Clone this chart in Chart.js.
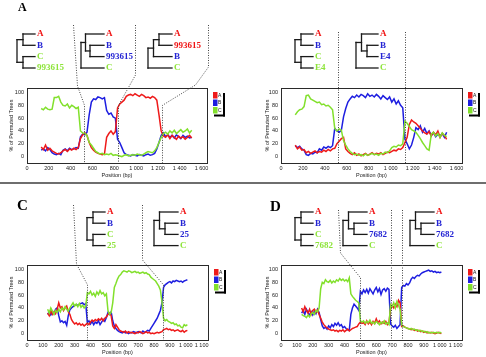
<!DOCTYPE html>
<html><head><meta charset="utf-8">
<script src="https://cdn.jsdelivr.net/npm/chart.js@4.4.0/dist/chart.umd.min.js"></script>
<style>
html,body{margin:0;padding:0;background:#fff;}
body{width:486px;height:357px;position:relative;overflow:hidden;}
.panel{position:absolute;}
.panel canvas{position:absolute;left:0;top:0;}
.lbl{position:absolute;font:bold 9px "Liberation Serif","Times New Roman",serif;line-height:9px;white-space:nowrap;}
.ttl{position:absolute;font-family:"Liberation Serif","Times New Roman",serif;font-weight:bold;line-height:1;}
#sep{position:absolute;left:0;top:182px;width:486px;height:2px;background:#6e6e6e;}
</style></head><body>
<div class="panel" id="pA" style="left:0;top:0;width:243px;height:180px"><canvas id="cA" width="243" height="180"></canvas></div>
<div class="panel" id="pB" style="left:243px;top:0;width:243px;height:180px"><canvas id="cB" width="243" height="180"></canvas></div>
<div class="panel" id="pC" style="left:0;top:180px;width:243px;height:177px"><canvas id="cC" width="243" height="177"></canvas></div>
<div class="panel" id="pD" style="left:243px;top:180px;width:243px;height:177px"><canvas id="cD" width="243" height="177"></canvas></div>
<div id="sep"></div>
<script>
// ---------- data ----------
const seriesNames = ['A','B','C'];
const posAB = [130,150,170,190,210,230,250,270,290,310,330,350,370,390,410,430,450,470,490,510,530,550,570,590,610,630,650,670,690,710,730,750,770,790,810,830,850,870,890,910,930,950,970,990,1010,1030,1050,1070,1090,1110,1130,1150,1170,1190,1210,1230,1250,1270,1290,1310,1330,1350,1370,1390,1410,1430,1450,1470,1490,1510];
const posCD = [130,140,150,160,170,180,190,200,210,220,230,240,250,260,270,280,290,300,310,320,330,340,350,360,370,380,390,400,410,420,430,440,450,460,470,480,490,500,510,520,530,540,550,560,570,580,590,600,610,620,630,640,650,660,670,680,690,700,710,720,730,740,750,760,770,780,790,800,810,820,830,840,850,860,870,880,890,900,910,920,930,940,950,960,970,980,990,1000,1010];

// Panel A
const panelA_A = [15,11,18,10,13,9,7,5,4,6, 9,11,8,12,10,13,11,14,28,34, 37,33,22,14,10,7,5,4,3,4, 30,36,40,35,39,76,82,85,88,94, 96,97,95,98,96,94,97,95,92,93, 91,94,92,88,65,40,32,30,34,28, 33,30,27,32,29,31,27,30,33,29];
const panelA_B = [10,12,9,14,11,6,4,3,5,3, 10,12,9,13,11,12,14,13,31,35, 34,38,65,85,90,89,93,92,90,92, 72,66,68,62,60,27,22,14,6,3, 2,1,3,2,1,3,2,1,3,4, 2,3,5,12,22,33,37,31,34,30, 33,29,34,31,28,33,30,32,29,30];
const panelA_C = [75,73,77,74,73,74,92,92,94,85, 80,79,82,76,80,78,75,77,40,37, 36,33,22,18,13,8,6,4,5,3, 4,3,5,2,3,2,1,0,2,3, 1,2,3,2,4,3,2,4,6,8, 7,6,9,14,22,30,36,38,35,40, 37,41,36,39,42,38,40,43,37,41];
// Panel B
const panelB_A = [18,12,15,10,11,6,8,5,7,9, 6,8,7,10,8,11,9,12,13,20, 24,28,30,12,8,5,3,6,2,4, 1,3,5,2,4,6,3,5,4,6, 3,5,7,6,8,10,9,12,11,14, 22,30,50,57,54,52,48,44,40,37, 35,39,32,38,34,40,30,36,33,27];
const panelB_B = [17,14,16,12,10,3,2,5,4,7, 6,12,10,15,13,16,14,17,44,40, 38,41,62,75,85,90,94,92,96,93, 97,95,92,98,94,96,93,97,94,90, 95,92,89,93,85,90,82,87,80,76, 27,20,12,18,30,45,42,48,38,44, 36,40,33,37,31,35,32,36,30,38];
const panelB_C = [65,70,73,74,78,95,96,90,88,86, 84,85,81,82,79,80,77,73,44,40, 43,41,25,18,12,8,5,3,4,2, 3,1,4,2,3,5,3,4,2,5, 4,7,6,9,14,16,15,18,17,20, 55,52,47,42,40,38,33,28,22,17, 12,10,35,38,32,36,30,37,33,31];
// Panel C
const panelC_A = [32,28,36,30,34,31,38,48,40,42, 36,40,43,34,30,22,18,15,17,14, 16,13,15,12,14,16,14,18,21,19, 22,20,23,21,24,20,24,26,30,32, 28,12,8,14,10,6,4,3,2,4, 1,3,1,2,1,0,2,1,3,2, 0,1,3,1,2,0,1,0,1,2, 1,2,3,6,7,8,6,7,5,6, 4,5,6,4,3,5,2,4,5];
const panelC_B = [30,34,29,33,31,38,40,28,18,20, 17,19,13,28,37,40,42,44,45,44, 46,47,48,45,47,17,20,15,19,14, 18,16,20,14,18,22,19,25,33,30, 34,20,12,8,5,3,2,1,3,1, 2,0,2,1,3,2,1,3,2,1, 4,2,3,5,4,8,12,16,20,24, 30,36,48,72,76,78,80,81,79,82, 81,83,82,81,82,80,82,83,84];
const panelC_C = [38,32,40,35,30,36,33,38,34,40, 37,42,38,35,40,44,48,43,46,42, 47,41,44,40,43,64,62,66,60,63, 58,65,61,67,62,64,59,62,36,30, 33,48,72,78,85,90,92,96,98,97, 96,98,97,95,96,97,95,96,94,95, 96,94,95,93,92,88,86,84,82,78, 74,68,50,24,20,22,19,18,16,17, 14,15,12,13,10,9,14,12,14];
// Panel D
const panelD_A = [40,34,42,36,32,38,30,36,38,33, 37,30,24,18,14,11,9,7,6,5, 6,4,5,3,5,4,6,3,5,7, 4,6,8,9,10,11,15,18,16,17, 14,20,15,18,14,19,16,23,17,20, 15,18,16,19,14,17,38,44,40,46, 42,52,48,11,12,10,9,8,7,6, 7,5,6,4,5,3,4,2,3,1, 2,1,2,1,0,1,2,1,0];
const panelD_B = [32,36,30,38,33,28,34,29,35,31, 38,33,22,12,8,10,7,12,9,14, 11,16,13,17,12,14,9,11,8,6, 5,30,40,46,43,40,36,66,62,68, 64,69,63,70,66,62,68,72,65,70, 61,68,70,66,71,69,15,12,10,13, 8,11,14,72,75,74,78,76,79,85, 88,86,89,91,90,93,95,96,97,98, 99,97,98,96,97,95,96,95,96];
const panelD_C = [30,28,27,25,29,26,31,33,30,36, 34,40,70,80,78,84,81,80,83,79, 82,80,84,82,86,83,85,82,84,81, 87,62,58,55,52,50,48,20,18,20, 16,19,17,21,16,18,15,19,17,14, 18,16,20,15,17,14,45,42,48,40, 50,44,38,14,11,10,9,8,7,8, 6,7,5,6,4,5,3,4,2,3, 1,2,1,2,1,2,1,2,1];

const xTicksAB = [0,200,400,600,800,1000,1200,1400,1600];
const xTicksCD = [0,100,200,300,400,500,600,700,800,900,1000,1100];
const yTicks = [0,20,40,60,80,100];

// recombination breakpoints (bp)
const breaksA = [520,830,1240];
const breaksB = [520,1130];
const breaksC = [375,855];
const breaksD = [500,690,760];

// ---------- styles ----------
const COL = {r:'#ee1a1a', b:'#1e1ee0', g:'#82e02c'};
const LBL = {r:'#f01212', b:'#2424d4', g:'#8ee43a'};
const L = (t,c)=>({t,c});

function fmt(v){ const s=String(v); return v>=1000 ? s.slice(0,s.length-3)+' '+s.slice(-3) : s; }

function buildTree(spec, rows){
  const segs=[], labels=[]; let li=0; const endX=spec.labelX-2;
  function rec(node, depth){
    if(!Array.isArray(node)){ const y=rows[li++]; labels.push({t:node.t,c:node.c,x:spec.labelX,y}); return {y,leaf:true}; }
    const nx=spec.rootX+depth*spec.dx;
    const kids=node.map(k=>rec(k,depth+1));
    kids.forEach(k=>{ const kx=k.leaf?endX:spec.rootX+(depth+1)*spec.dx; segs.push([nx,k.y,kx,k.y]); });
    segs.push([nx,kids[0].y,nx,kids[kids.length-1].y]);
    return {y:(kids[0].y+kids[kids.length-1].y)/2,leaf:false};
  }
  rec(spec.topo,0);
  return {segs,labels};
}

const rowsTop=[34,45.3,56.6,68], rowsBot=[32,43.2,54.4,65.6];

const panels = [
 {id:'A', pos:posAB, a:panelA_A, b:panelA_B, c:panelA_C, xTicks:xTicksAB, xMax:1650, padL:0, yW:27, padR:36, padT:88, xH:17,
  title:{left:18,top:1,size:12}, rows:rowsTop,
  trees:[
   {rootX:17, dx:6, labelX:37, topo:[[L('A','r'),L('B','b')],[L('C','g'),L('993615','g')]]},
   {rootX:81, dx:4.5, labelX:106, topo:[[L('A','r'),[L('B','b'),L('993615','b')]],L('C','g')]},
   {rootX:148, dx:5.5, labelX:174, topo:[[[L('A','r'),L('993615','r')],L('B','b')],L('C','g')]}],
  guides:[{bp:breaksA[0], path:[[73,25],[77,86]], kv:80},{bp:breaksA[1], path:[[135,25],[135,75]], kv:80},{bp:breaksA[2], path:[[208,25],[208,67],[195,85]], kv:80}]},
 {id:'B', pos:posAB, a:panelB_A, b:panelB_B, c:panelB_C, xTicks:xTicksAB, xMax:1650, padL:13, yW:25, padR:24, padT:88, xH:17,
  title:{left:272,top:1,size:12}, rows:rowsTop,
  trees:[
   {rootX:52, dx:6, labelX:72, topo:[[L('A','r'),L('B','b')],[L('C','g'),L('E4','g')]]},
   {rootX:113, dx:5.5, labelX:137, topo:[[L('A','r'),[L('B','b'),L('E4','b')]],L('C','g')]}],
  guides:[{bp:breaksB[0], top:32},{bp:breaksB[1], top:32}]},
 {id:'C', pos:posCD, a:panelC_A, b:panelC_B, c:panelC_C, xTicks:xTicksCD, xMax:1140, padL:0, yW:27, padR:35, padT:85, xH:17,
  title:{left:17,top:18,size:15}, rows:rowsBot,
  trees:[
   {rootX:87, dx:6, labelX:107, topo:[[L('A','r'),L('B','b')],[L('C','g'),L('25','g')]]},
   {rootX:154, dx:5.5, labelX:180, topo:[[L('A','r'),[L('B','b'),L('25','b')]],L('C','g')]}],
  guides:[{bp:breaksC[0], path:[[73,25],[76,84]], kv:76},{bp:breaksC[1], path:[[142,25],[142,80]], kv:76}]},
 {id:'D', pos:posCD, a:panelD_A, b:panelD_B, c:panelD_C, xTicks:xTicksCD, xMax:1140, padL:13, yW:25, padR:24, padT:85, xH:17,
  title:{left:27,top:19,size:15}, rows:rowsBot,
  trees:[
   {rootX:52, dx:6, labelX:72, topo:[[L('A','r'),L('B','b')],[L('C','g'),L('7682','g')]]},
   {rootX:100, dx:5.5, labelX:126, topo:[[L('A','r'),[L('B','b'),L('7682','b')]],L('C','g')]},
   {rootX:167, dx:5.5, labelX:193, topo:[[L('A','r'),[L('B','b'),L('7682','b')]],L('C','g')]}],
  guides:[{bp:breaksD[0], path:[[95,30],[97,73]], kv:87},{bp:breaksD[1], top:30},{bp:breaksD[2], top:30}]}
];

const FONT = "'Liberation Sans', Arial, sans-serif";

panels.forEach(p=>{
  const div=document.getElementById('p'+p.id);
  const t=document.createElement('div'); t.className='ttl'; t.textContent=p.id;
  t.style.left=p.title.left+'px'; t.style.top=p.title.top+'px'; t.style.fontSize=p.title.size+'px';
  div.appendChild(t);
  const built=p.trees.map(s=>buildTree(s,p.rows));
  built.forEach(b=>b.labels.forEach(l=>{
    const s=document.createElement('div'); s.className='lbl'; s.textContent=l.t; s.style.color=LBL[l.c];
    s.style.left=l.x+'px'; s.style.top=(l.y-4.6)+'px'; div.appendChild(s);
  }));
  const decor={id:'decor'+p.id, afterDraw(chart){
    const ctx=chart.ctx, ca=chart.chartArea, xs=chart.scales.x, ys=chart.scales.y;
    ctx.save();
    // plot frame
    ctx.strokeStyle='#2a2a2a'; ctx.lineWidth=1; ctx.setLineDash([]);
    ctx.strokeRect(Math.round(ca.left)+0.5, Math.round(ca.top)+0.5, Math.round(ca.right-ca.left), Math.round(ca.bottom-ca.top));
    // trees
    ctx.strokeStyle='#1a1a1a'; ctx.lineWidth=1.3; ctx.lineCap='square';
    built.forEach(b=>b.segs.forEach(s=>{ctx.beginPath();ctx.moveTo(s[0],s[1]);ctx.lineTo(s[2],s[3]);ctx.stroke();}));
    // guides
    ctx.strokeStyle='#444'; ctx.lineWidth=1; ctx.lineCap='butt'; ctx.setLineDash([1,1.5]);
    p.guides.forEach(g=>{
      const px=Math.round(xs.getPixelForValue(g.bp))+0.5;
      ctx.beginPath();
      if(g.path){ ctx.moveTo(g.path[0][0]+0.5,g.path[0][1]); g.path.slice(1).forEach(q=>ctx.lineTo(q[0]+0.5,q[1])); ctx.lineTo(px, ys.getPixelForValue(g.kv)); }
      else ctx.moveTo(px,g.top);
      ctx.lineTo(px, ca.bottom); ctx.stroke();
    });
    ctx.setLineDash([]);
    // legend
    const lx=Math.round(ca.right)+6, ly=Math.round(ca.top)+4, cols=[COL.r,COL.b,COL.g];
    ctx.fillStyle='#000'; ctx.fillRect(lx+10, ly+1, 2, 23.5); ctx.fillRect(lx+1, ly+22.5, 11, 2);
    ctx.font='5px '+FONT; ctx.textBaseline='middle'; ctx.textAlign='left';
    seriesNames.forEach((n,i)=>{
      ctx.fillStyle=cols[i]; ctx.fillRect(lx, ly+i*7.5, 4.5, 6.5);
      ctx.fillStyle='#111'; ctx.fillText(n, lx+5, ly+i*7.5+3.4);
    });
    ctx.restore();
  }};
  const mk=(arr)=>p.pos.map((x,i)=>({x,y:arr[i]}));
  new Chart(document.getElementById('c'+p.id), {
    type:'line',
    data:{datasets:[
      {label:seriesNames[0], data:mk(p.a), borderColor:COL.r, order:1},
      {label:seriesNames[1], data:mk(p.b), borderColor:COL.b, order:2},
      {label:seriesNames[2], data:mk(p.c), borderColor:COL.g, order:0}
    ]},
    options:{
      responsive:false, animation:false, devicePixelRatio:1,
      layout:{padding:{left:p.padL, right:p.padR, top:p.padT, bottom:0}},
      elements:{point:{radius:0}, line:{borderWidth:1.5, tension:0, fill:false}},
      plugins:{legend:{display:false}, tooltip:{enabled:false}},
      scales:{
        x:{type:'linear', min:0, max:p.xMax,
           afterBuildTicks:s=>{s.ticks=p.xTicks.map(v=>({value:v}));},
           afterFit:s=>{s.height=p.xH;},
           ticks:{font:{size:5.5,family:FONT}, color:'#222', padding:2, maxRotation:0, minRotation:0, autoSkip:false, callback:v=>fmt(v)},
           grid:{display:false, drawTicks:false}, border:{display:false},
           title:{display:true, text:'Position (bp)', font:{size:5.5,family:FONT}, color:'#222', padding:{top:0,bottom:1}}},
        y:{min:-10, max:107,
           afterBuildTicks:s=>{s.ticks=yTicks.map(v=>({value:v}));},
           afterFit:s=>{s.width=p.yW;},
           ticks:{font:{size:5.5,family:FONT}, color:'#222', padding:3, callback:v=>String(v)},
           grid:{display:false, drawTicks:false}, border:{display:false},
           title:{display:true, text:'% of Permuted Trees', font:{size:5.5,family:FONT}, color:'#222', padding:{top:8,bottom:0}}}
      }
    },
    plugins:[decor]
  });
});
</script>
</body></html>
